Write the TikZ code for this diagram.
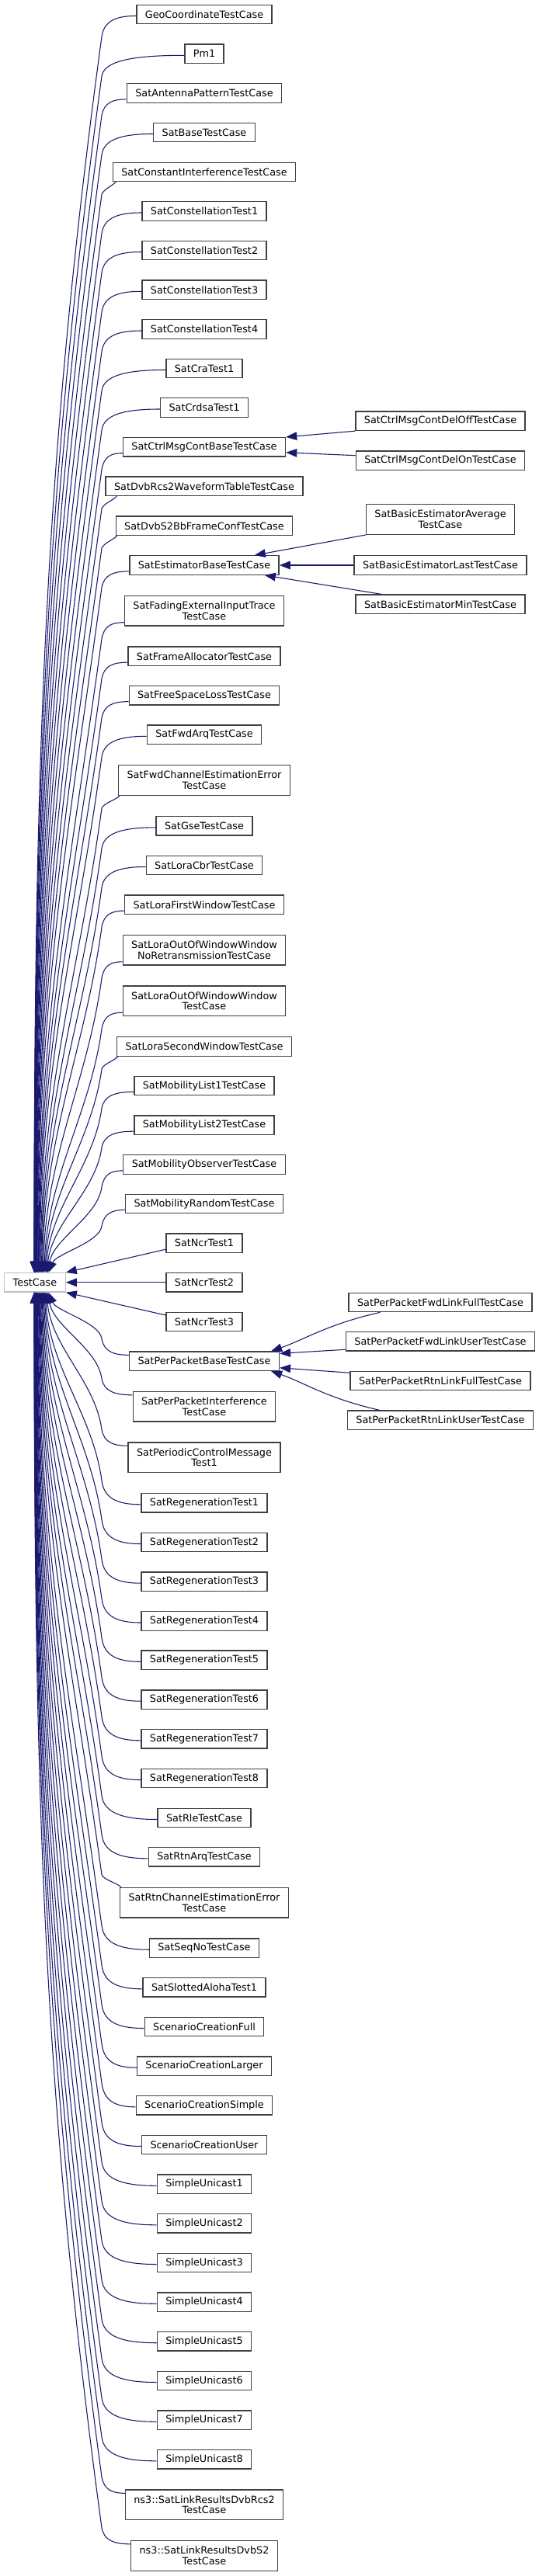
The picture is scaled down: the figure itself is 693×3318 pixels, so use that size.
\documentclass[tikz,border=0pt]{standalone}
\usepackage{fontspec}
\setmainfont{DejaVu Sans}
\usetikzlibrary{arrows.meta,calc}
\definecolor{edgec}{HTML}{191970}
\definecolor{boxc}{HTML}{404040}
\definecolor{tcc}{HTML}{BFBFBF}
\newcommand\nfont{\fontsize{9.6pt}{10.3pt}\selectfont}
\tikzset{
  box/.style={draw=boxc, line width=1pt, fill=white, inner xsep=8.2pt, inner ysep=0pt,
    minimum height=18.3pt, align=center, font=\nfont},
  boxtwo/.style={box, minimum height=29pt},
  tcbox/.style={box, draw=tcc},
  inh/.style={draw=edgec, line width=0.8pt, arrows={Triangle[length=10.5pt,width=8pt]-}}
}
% upper edge: #1 child, #2 centre y, #3 half height, #4 mode, #5 corner offset
\newcommand\upedge[5]{%
  \pgfmathsetmacro\Ky{#2+#3+16}%
  \pgfmathsetmacro\dB{1639.6-\Ky}%
  \pgfmathsetmacro\tx{-1+20*(max(0,1-\dB/1600))^2}%
  \pgfmathsetmacro\ex{12*exp(-\dB/300)}%
  \pgfmathsetmacro\cax{-0.0476*\dB}%
  \pgfmathsetmacro\cay{0.35*\dB}%
  \pgfmathsetmacro\cby{-0.4*\dB}%
  \coordinate (k) at (131,\Ky);%
  \ifcase#4\relax
    \coordinate (p) at ($(#1.west)+(0,2)$);%
    \coordinate (q) at ($(p)!0.55!(k |- p)$);%
    \pgfmathsetmacro\cdy{-0.8*(#3+14)}%
  \or
    \coordinate (p) at ($(#1.south west)+(0,-5)$);%
    \coordinate (q) at ($(p)!0.55!(k |- p)$);%
    \pgfmathsetmacro\cdy{-16.8}%
  \or
    \coordinate (p) at ($(#1.south west)+(#5,0)$);%
    \coordinate (q) at ($(p)+(-6,6)$);%
    \pgfmathsetmacro\cdy{-7}%
  \fi
  \draw[inh] ($(tc.north)+(\tx,0)$) .. controls +(\ex,\cby) and +(\cax,\cay) .. (k)
     .. controls +(3,\cdy) and (q) .. (p);%
}
% lower edge
\newcommand\loedge[5]{%
  \pgfmathsetmacro\Ky{#2-#3-16}%
  \pgfmathsetmacro\dB{\Ky-1664.0}%
  \pgfmathsetmacro\tx{-1+20*(max(0,1-\dB/1600))^2}%
  \pgfmathsetmacro\ex{12*exp(-\dB/300)}%
  \pgfmathsetmacro\cax{-0.0476*\dB}%
  \pgfmathsetmacro\cay{-0.35*\dB}%
  \pgfmathsetmacro\cby{0.4*\dB}%
  \coordinate (k) at (131,\Ky);%
  \ifcase#4\relax
    \coordinate (p) at ($(#1.west)+(0,2)$);%
    \coordinate (q) at ($(p)!0.55!(k |- p)$);%
    \pgfmathsetmacro\cdy{0.8*(#3+18)}%
  \or
    \coordinate (p) at ($(#1.north west)+(0,5)$);%
    \coordinate (q) at ($(p)!0.55!(k |- p)$);%
    \pgfmathsetmacro\cdy{16.8}%
  \or
    \coordinate (p) at ($(#1.north west)+(#5,0)$);%
    \coordinate (q) at ($(p)+(-6,-6)$);%
    \pgfmathsetmacro\cdy{7}%
  \fi
  \draw[inh] ($(tc.south)+(\tx,0)$) .. controls +(\ex,\cby) and +(\cax,\cay) .. (k)
     .. controls +(3,\cdy) and (q) .. (p);%
}
\begin{document}
\begin{tikzpicture}[x=0.75pt,y=-0.75pt]
\useasboundingbox (0,0) rectangle (693,3318);
\fill[white] (0,0) rectangle (693,3318);
% base
\node[tcbox] (tc) at (45,1651.8) {TestCase};
% column 2
\node[box] (geo) at (263,18.5) {GeoCoordinateTestCase};
\node[box] (pm1) at (263,69.3) {Pm1};
\node[box] (ant) at (263,120) {SatAntennaPatternTestCase};
\node[box] (sbase) at (263,170.5) {SatBaseTestCase};
\node[box] (cint) at (263,221.5) {SatConstantInterferenceTestCase};
\node[box] (ct1) at (263,272) {SatConstellationTest1};
\node[box] (ct2) at (263,322.5) {SatConstellationTest2};
\node[box] (ct3) at (263,373.3) {SatConstellationTest3};
\node[box] (ct4) at (263,424) {SatConstellationTest4};
\node[box] (cra) at (263,474.5) {SatCraTest1};
\node[box] (crdsa) at (263,525) {SatCrdsaTest1};
\node[box] (cmb) at (263,575.8) {SatCtrlMsgContBaseTestCase};
\node[box] (rcs2) at (263,626.3) {SatDvbRcs2WaveformTableTestCase};
\node[box] (s2bb) at (263,677.3) {SatDvbS2BbFrameConfTestCase};
\node[box] (est) at (263,728) {SatEstimatorBaseTestCase};
\node[boxtwo] (fade) at (263,786.7) {SatFadingExternalInputTrace\\TestCase};
\node[box] (frame) at (263,845.3) {SatFrameAllocatorTestCase};
\node[box] (fsl) at (263,895.8) {SatFreeSpaceLossTestCase};
\node[box] (farq) at (263,946.3) {SatFwdArqTestCase};
\node[boxtwo] (fce) at (263,1005) {SatFwdChannelEstimationError\\TestCase};
\node[box] (gse) at (263,1063.8) {SatGseTestCase};
\node[box] (cbr) at (263,1114.5) {SatLoraCbrTestCase};
\node[box] (lfw) at (263,1165.3) {SatLoraFirstWindowTestCase};
\node[boxtwo] (loownr) at (263,1223.8) {SatLoraOutOfWindowWindow\\NoRetransmissionTestCase};
\node[boxtwo] (loow) at (263,1289.2) {SatLoraOutOfWindowWindow\\TestCase};
\node[box] (lsw) at (263,1348) {SatLoraSecondWindowTestCase};
\node[box] (ml1) at (263,1398.5) {SatMobilityList1TestCase};
\node[box] (ml2) at (263,1449.3) {SatMobilityList2TestCase};
\node[box] (mobs) at (263,1500) {SatMobilityObserverTestCase};
\node[box] (mrand) at (263,1550.5) {SatMobilityRandomTestCase};
\node[box] (ncr1) at (263,1601.2) {SatNcrTest1};
\node[box] (ncr2) at (263,1651.8) {SatNcrTest2};
\node[box] (ncr3) at (263,1702.5) {SatNcrTest3};
\node[box] (ppb) at (263,1753.2) {SatPerPacketBaseTestCase};
\node[boxtwo] (ppi) at (263,1811.8) {SatPerPacketInterference\\TestCase};
\node[boxtwo] (pcm) at (263,1877.2) {SatPeriodicControlMessage\\Test1};
\node[box] (rg1) at (263,1935.8) {SatRegenerationTest1};
\node[box] (rg2) at (263,1986.5) {SatRegenerationTest2};
\node[box] (rg3) at (263,2037.2) {SatRegenerationTest3};
\node[box] (rg4) at (263,2088) {SatRegenerationTest4};
\node[box] (rg5) at (263,2138.3) {SatRegenerationTest5};
\node[box] (rg6) at (263,2189.2) {SatRegenerationTest6};
\node[box] (rg7) at (263,2239.8) {SatRegenerationTest7};
\node[box] (rg8) at (263,2290.5) {SatRegenerationTest8};
\node[box] (rle) at (263,2341.5) {SatRleTestCase};
\node[box] (rarq) at (263,2391.8) {SatRtnArqTestCase};
\node[boxtwo] (rce) at (263,2450.7) {SatRtnChannelEstimationError\\TestCase};
\node[box] (seq) at (263,2509.2) {SatSeqNoTestCase};
\node[box] (aloha) at (263,2559.8) {SatSlottedAlohaTest1};
\node[box] (scf) at (263,2610.5) {ScenarioCreationFull};
\node[box] (scl) at (263,2661.2) {ScenarioCreationLarger};
\node[box] (scs) at (263,2711.8) {ScenarioCreationSimple};
\node[box] (scu) at (263,2762.5) {ScenarioCreationUser};
\node[box] (su1) at (263,2813.3) {SimpleUnicast1};
\node[box] (su2) at (263,2863.8) {SimpleUnicast2};
\node[box] (su3) at (263,2914.5) {SimpleUnicast3};
\node[box] (su4) at (263,2965.3) {SimpleUnicast4};
\node[box] (su5) at (263,3015.7) {SimpleUnicast5};
\node[box] (su6) at (263,3066.5) {SimpleUnicast6};
\node[box] (su7) at (263,3117.3) {SimpleUnicast7};
\node[box] (su8) at (263,3167.8) {SimpleUnicast8};
\node[boxtwo] (lrcs2) at (263,3226.3) {ns3::SatLinkResultsDvbRcs2\\TestCase};
\node[boxtwo] (ls2) at (263,3291.8) {ns3::SatLinkResultsDvbS2\\TestCase};
% column 3
\node[box] (off) at (567,542.3) {SatCtrlMsgContDelOffTestCase};
\node[box] (on) at (567,593.3) {SatCtrlMsgContDelOnTestCase};
\node[boxtwo] (avg) at (567,669) {SatBasicEstimatorAverage\\TestCase};
\node[box] (last) at (567,728) {SatBasicEstimatorLastTestCase};
\node[box] (minb) at (567,778.3) {SatBasicEstimatorMinTestCase};
\node[box] (pfull) at (567,1677.5) {SatPerPacketFwdLinkFullTestCase};
\node[box] (fuser) at (567,1727.8) {SatPerPacketFwdLinkUserTestCase};
\node[box] (rfull) at (567,1778.5) {SatPerPacketRtnLinkFullTestCase};
\node[box] (ruser) at (567,1829.2) {SatPerPacketRtnLinkUserTestCase};
% edges to TestCase, upper
\upedge{geo}{18.5}{12.8}{0}{0}
\upedge{pm1}{69.3}{12.8}{0}{0}
\upedge{ant}{120}{12.8}{1}{0}
\upedge{sbase}{170.5}{12.8}{0}{0}
\upedge{cint}{221.5}{12.8}{2}{4.5}
\upedge{ct1}{272}{12.8}{0}{0}
\upedge{ct2}{322.5}{12.8}{0}{0}
\upedge{ct3}{373.3}{12.8}{0}{0}
\upedge{ct4}{424}{12.8}{0}{0}
\upedge{cra}{474.5}{12.8}{0}{0}
\upedge{crdsa}{525}{12.8}{0}{0}
\upedge{cmb}{575.8}{12.8}{1}{0}
\upedge{rcs2}{626.3}{12.8}{2}{15}
\upedge{s2bb}{677.3}{12.8}{2}{2}
\upedge{est}{728}{12.8}{1}{0}
\upedge{fade}{786.7}{20}{1}{0}
\upedge{frame}{845.3}{12.8}{1}{0}
\upedge{fsl}{895.8}{12.8}{1}{0}
\upedge{farq}{946.3}{12.8}{0}{0}
\upedge{fce}{1005}{20}{2}{2}
\upedge{gse}{1063.8}{12.8}{0}{0}
\upedge{cbr}{1114.5}{12.8}{0}{0}
\upedge{lfw}{1165.3}{12.8}{1}{0}
\upedge{loownr}{1223.8}{20}{1}{0}
\upedge{loow}{1289.2}{20}{1}{0}
\upedge{lsw}{1348}{12.8}{2}{2}
\upedge{ml1}{1398.5}{12.8}{1}{0}
\upedge{ml2}{1449.3}{12.8}{1}{0}
\upedge{mobs}{1500}{12.8}{1}{0}
\upedge{mrand}{1550.5}{12.8}{1}{0}
% straight ones
\draw[inh] (tc.north east) -- ($(ncr1.west)+(0,8)$);
\draw[inh] (tc.east) -- (ncr2.west);
\draw[inh] (tc.south east) -- ($(ncr3.west)+(0,-8.5)$);
% lower
\loedge{ppb}{1753.2}{12.8}{1}{0}
\loedge{ppi}{1811.8}{20}{1}{0}
\loedge{pcm}{1877.2}{20}{1}{0}
\loedge{rg1}{1935.8}{12.8}{0}{0}
\loedge{rg2}{1986.5}{12.8}{0}{0}
\loedge{rg3}{2037.2}{12.8}{0}{0}
\loedge{rg4}{2088}{12.8}{0}{0}
\loedge{rg5}{2138.3}{12.8}{0}{0}
\loedge{rg6}{2189.2}{12.8}{0}{0}
\loedge{rg7}{2239.8}{12.8}{0}{0}
\loedge{rg8}{2290.5}{12.8}{0}{0}
\loedge{rle}{2341.5}{12.8}{0}{0}
\loedge{rarq}{2391.8}{12.8}{0}{0}
\loedge{rce}{2450.7}{20}{2}{2}
\loedge{seq}{2509.2}{12.8}{0}{0}
\loedge{aloha}{2559.8}{12.8}{0}{0}
\loedge{scf}{2610.5}{12.8}{0}{0}
\loedge{scl}{2661.2}{12.8}{0}{0}
\loedge{scs}{2711.8}{12.8}{0}{0}
\loedge{scu}{2762.5}{12.8}{0}{0}
\loedge{su1}{2813.3}{12.8}{0}{0}
\loedge{su2}{2863.8}{12.8}{0}{0}
\loedge{su3}{2914.5}{12.8}{0}{0}
\loedge{su4}{2965.3}{12.8}{0}{0}
\loedge{su5}{3015.7}{12.8}{0}{0}
\loedge{su6}{3066.5}{12.8}{0}{0}
\loedge{su7}{3117.3}{12.8}{0}{0}
\loedge{su8}{3167.8}{12.8}{0}{0}
\loedge{lrcs2}{3226.3}{20}{1}{0}
\loedge{ls2}{3291.8}{20}{1}{0}
% column 3 edges
\draw[inh] (cmb.north east) -- (off.south west);
\draw[inh] ($(cmb.east)+(0,7)$) -- ($(on.west)+(0,-6.6)$);
\draw[inh] ($(est.north east)+(-32,0)$) -- (avg.south west);
\draw[inh] (est.east) -- (last.west);
\draw[inh] ($(est.south east)+(-19,0)$) -- ($(minb.north west)+(34,0)$);
\draw[inh] ($(ppb.north east)+(-11,0)$) .. controls +(43,-15) and +(-67,15) .. ($(pfull.south west)+(41,0)$);
\draw[inh] ($(ppb.north east)+(0,3)$) -- ($(fuser.south west)+(0,-2.4)$);
\draw[inh] ($(ppb.south east)+(0,-4.3)$) -- ($(rfull.north west)+(0,2.6)$);
\draw[inh] ($(ppb.south east)+(-11,0)$) .. controls +(43,15) and +(-67,-15) .. ($(ruser.north west)+(42,0)$);
\end{tikzpicture}
\end{document}
